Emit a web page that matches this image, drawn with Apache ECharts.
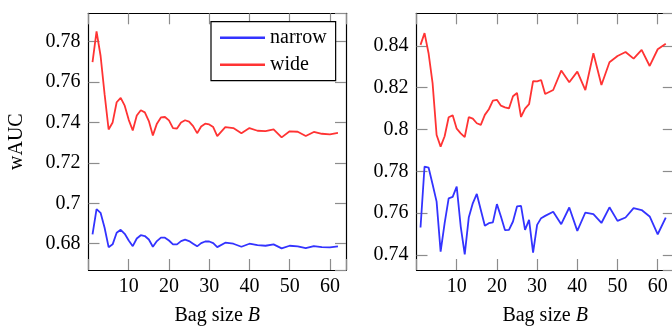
<!DOCTYPE html>
<html>
<head>
<meta charset="utf-8">
<script src="https://cdn.jsdelivr.net/npm/echarts@6/dist/echarts.min.js"></script>
<style>
  html, body { margin: 0; padding: 0; background: #fff; }
  #chart { width: 672px; height: 329px; }
</style>
</head>
<body>
<div id="chart"></div>
<script>
// bag sizes: every step up to 32, then every second one
const bagSizes = [1, 2, 3, 4, 5, 6, 7, 8, 9, 10, 11, 12, 13, 14, 15, 16,
  17, 18, 19, 20, 21, 22, 23, 24, 25, 26, 27, 28, 29, 30, 31, 32,
  34, 36, 38, 40, 42, 44, 46, 48, 50, 52, 54, 56, 58, 60, 62]

// left panel
const leftNarrow = [0.6846, 0.6971, 0.6953, 0.6879, 0.6783, 0.6797, 0.6854, 0.6869, 0.6849, 0.6816, 0.6788, 0.6826, 0.6842, 0.6838, 0.6821, 0.6785,
  0.6813, 0.683, 0.683, 0.6816, 0.6797, 0.6797, 0.6813, 0.682, 0.6813, 0.68, 0.6787, 0.6803, 0.6811, 0.6811, 0.6803, 0.6783,
  0.6805, 0.68, 0.6785, 0.68, 0.6793, 0.679, 0.6797, 0.6777, 0.679, 0.6787, 0.6778, 0.6788, 0.6783, 0.6782, 0.6787]
const leftWide = [0.7698, 0.785, 0.773, 0.754, 0.7365, 0.74, 0.75, 0.7522, 0.7483, 0.7413, 0.736, 0.7434, 0.746, 0.745, 0.7407, 0.7336,
  0.7394, 0.7425, 0.7427, 0.741, 0.7372, 0.737, 0.74, 0.7411, 0.7404, 0.7382, 0.7347, 0.738, 0.7394, 0.739, 0.7377, 0.7332,
  0.7377, 0.7372, 0.7346, 0.7372, 0.7359, 0.7357, 0.7366, 0.7326, 0.7356, 0.7354, 0.7333, 0.7353, 0.7344, 0.7341, 0.7348]

// right panel
const rightNarrow = [0.7531, 0.7823, 0.7818, 0.7738, 0.7655, 0.7416, 0.7552, 0.7671, 0.7678, 0.7727, 0.7536, 0.7403, 0.7579, 0.7647, 0.7692, 0.7615,
  0.754, 0.7552, 0.7556, 0.7643, 0.7584, 0.7519, 0.752, 0.756, 0.7632, 0.7635, 0.752, 0.7568, 0.7411, 0.7544, 0.7576, 0.7587,
  0.7607, 0.7547, 0.7627, 0.7515, 0.7603, 0.7595, 0.7553, 0.7628, 0.7563, 0.7579, 0.7624, 0.7615, 0.7584, 0.7499, 0.7579]
const rightWide = [0.8405, 0.8461, 0.8365, 0.8222, 0.7974, 0.7918, 0.7968, 0.8059, 0.8068, 0.8004, 0.7982, 0.7964, 0.8059, 0.8052, 0.803, 0.8022,
  0.807, 0.8097, 0.8138, 0.8142, 0.8114, 0.8106, 0.8101, 0.8159, 0.8175, 0.806, 0.81, 0.8121, 0.8232, 0.823, 0.8237, 0.817,
  0.8189, 0.8282, 0.8226, 0.8277, 0.8189, 0.8365, 0.8213, 0.8322, 0.8352, 0.8371, 0.8339, 0.8381, 0.8304, 0.8384, 0.841]

const xTickLabels = [10, 20, 30, 40, 50, 60]

const FONT = 'Liberation Serif'
const BLUE = '#3333ff'
const RED = '#ff3333'
const TICK_GRAY = '#8c8c8c'

const pairs = (ys) => bagSizes.map((b, i) => [b, ys[i]])

// x axis (bottom with labels, top only ticks)
const makeX = (gridIndex, top) => ({
  type: 'value',
  gridIndex,
  position: top ? 'top' : 'bottom',
  min: 0,
  max: 64,
  interval: 10,
  name: top ? '' : 'Bag size {i|B}',
  nameLocation: 'middle',
  nameGap: 36,
  nameTextStyle: {
    fontFamily: FONT,
    fontSize: 20,
    color: '#000',
    rich: { i: { fontFamily: FONT, fontSize: 20, fontStyle: 'italic', color: '#000' } },
  },
  axisLine: { show: true, onZero: false, lineStyle: { color: '#000', width: 1.2 } },
  axisTick: { show: true, inside: true, length: 11, lineStyle: { color: TICK_GRAY, width: 1.2 } },
  axisLabel: {
    show: !top,
    margin: 7,
    fontFamily: FONT,
    fontSize: 20,
    color: '#000',
    formatter: (v) => (xTickLabels.includes(v) ? String(v) : ''),
  },
  splitLine: { show: false },
})

// y axis (left with labels, right only ticks)
const makeY = (gridIndex, right, min, max, name) => ({
  type: 'value',
  gridIndex,
  position: right ? 'right' : 'left',
  min,
  max,
  splitNumber: 6,
  name: right ? '' : name,
  nameLocation: 'middle',
  nameGap: 62,
  nameTextStyle: { fontFamily: FONT, fontSize: 20, color: '#000' },
  axisLine: { show: true, onZero: false, lineStyle: { color: '#000', width: 1.2 } },
  axisTick: { show: true, inside: true, length: 11, lineStyle: { color: TICK_GRAY, width: 1.2 } },
  axisLabel: {
    show: !right,
    margin: 8,
    fontFamily: FONT,
    fontSize: 20,
    color: '#000',
    showMinLabel: false,
    showMaxLabel: false,
  },
  splitLine: { show: false },
})

const lineSeries = (name, data, color, xi, yi) => ({
  name,
  type: 'line',
  xAxisIndex: xi,
  yAxisIndex: yi,
  data: pairs(data),
  symbol: 'none',
  smooth: false,
  lineStyle: { color, width: 1.8 },
  itemStyle: { color },
})

const chart = echarts.init(document.getElementById('chart'), null, { renderer: 'canvas' })

chart.setOption({
  animation: false,
  backgroundColor: '#fff',
  grid: [
    { left: 88.5, top: 13.3, width: 257.5, height: 256.7, outerBoundsMode: 'none' },
    { left: 416.5, top: 13.3, width: 257.3, height: 256.7, outerBoundsMode: 'none' },
  ],
  legend: {
    orient: 'vertical',
    left: 211,
    top: 21.7,
    padding: [6, 9, 6, 9],
    itemGap: 7,
    itemWidth: 45,
    itemHeight: 2.5,
    icon: 'rect',
    borderColor: '#000',
    borderWidth: 1.2,
    borderRadius: 0,
    backgroundColor: '#fff',
    textStyle: { fontFamily: FONT, fontSize: 20, color: '#000' },
    data: ['narrow', 'wide'],
  },
  xAxis: [makeX(0, false), makeX(0, true), makeX(1, false), makeX(1, true)],
  yAxis: [
    makeY(0, false, 0.667, 0.794, 'wAUC'),
    makeY(0, true, 0.667, 0.794),
    makeY(1, false, 0.7328, 0.8556, ''),
    makeY(1, true, 0.7328, 0.8556),
  ],
  series: [
    lineSeries('narrow', leftNarrow, BLUE, 0, 0),
    lineSeries('wide', leftWide, RED, 0, 0),
    lineSeries('narrow', rightNarrow, BLUE, 2, 2),
    lineSeries('wide', rightWide, RED, 2, 2),
  ],
})
</script>
</body>
</html>
